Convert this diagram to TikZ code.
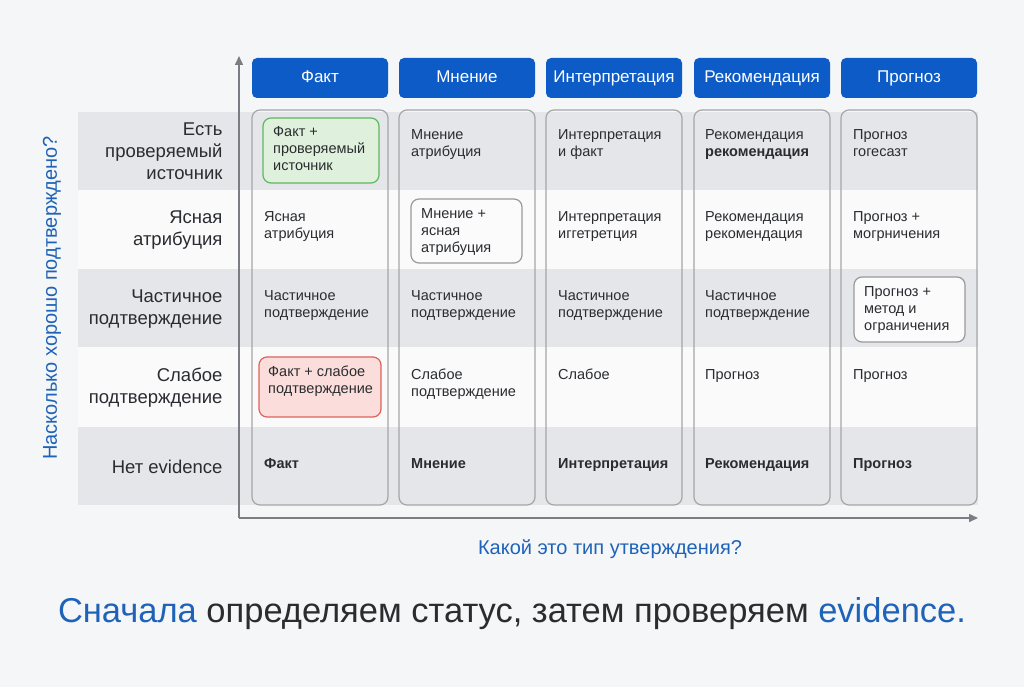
\documentclass[tikz,border=0pt]{standalone}
\usepackage{fontspec}
\setmainfont{Liberation Sans}
\usetikzlibrary{arrows.meta}
\definecolor{bg}{HTML}{F5F6F8}
\definecolor{band}{HTML}{E5E6E9}
\definecolor{wband}{HTML}{FAFAFB}
\definecolor{hblue}{HTML}{0D5BC6}
\definecolor{tblue}{HTML}{1F63B8}
\definecolor{axis}{HTML}{7A7D83}
\definecolor{txt}{HTML}{2A2C30}
\definecolor{gfill}{HTML}{DFF1DC}
\definecolor{gline}{HTML}{5DB85F}
\definecolor{rfill}{HTML}{FBDEDB}
\definecolor{rline}{HTML}{E0605A}
\tikzset{
 x=1pt,y=-1pt,
 hdr/.style={fill=hblue,rounded corners=5pt,text=white,font=\fontsize{17}{20}\selectfont,text height=12pt,text depth=3pt},
 colbox/.style={draw=black!35,line width=1.2pt,rounded corners=8pt},
 rowlab/.style={anchor=east,align=right,text=txt,font=\fontsize{18.5}{22}\selectfont},
 cell/.style={anchor=north west,align=left,text=txt,font=\fontsize{14.5}{17}\selectfont,inner sep=0pt},
 bcell/.style={cell,font=\bfseries\fontsize{14.5}{17}\selectfont},
 hl/.style={rounded corners=8pt,line width=1.2pt},
}
\begin{document}
\begin{tikzpicture}
\fill[bg] (0,0) rectangle (1024,687);
\useasboundingbox (0,0) rectangle (1024,687);
% bands
\fill[band] (78,112) rectangle (978,190);
\fill[wband] (78,190) rectangle (978,269);
\fill[band] (78,269) rectangle (978,347);
\fill[wband] (78,347) rectangle (978,427);
\fill[band] (78,427) rectangle (978,505);
% headers and columns
\foreach \x/\t/\n in {252/Факт/h1,399/Мнение/h2,546/Интерпретация/h3,694/Рекомендация/h4,841/Прогноз/h5}{
 \node[hdr,minimum width=136pt,minimum height=40pt] (\n) at (\x+68,78) {\t};
 \draw[colbox] (\x,110) rectangle (\x+136,505);
}
% highlight boxes
\draw[hl,draw=gline,fill=gfill] (263,118) rectangle (379,183);
\draw[hl,draw=rline,fill=rfill] (259,357) rectangle (381,417);
\draw[hl,draw=black!40,fill=white!60!bg] (411,199) rectangle (522,263);
\draw[hl,draw=black!40,fill=white!60!bg] (854,277) rectangle (965,342);
% axes
\coordinate (o) at (239,518);
\coordinate (yt) at (239,56);
\coordinate (xt) at (978,518);
\draw[axis,line width=1.5pt,-{Triangle[length=9pt,width=8pt]}] (o) -- (yt);
\draw[axis,line width=1.5pt,-{Triangle[length=9pt,width=8pt]}] (o) -- (xt);
% row labels
\node[rowlab] (r1) at (226,151) {Есть\\проверяемый\\источник};
\node[rowlab] (r2) at (226,230) {Ясная\\атрибуция};
\node[rowlab] (r3) at (226,309) {Частичное\\подтверждение};
\node[rowlab] (r4) at (226,388) {Слабое\\подтверждение};
\node[rowlab] (r5) at (226,467) {Нет evidence};
% axis labels
\node[rotate=90,text=tblue,font=\fontsize{20}{24}\selectfont] (yl) at (52,298) {Насколько хорошо подтверждено?};
\node[text=tblue,font=\fontsize{20}{24}\selectfont] (xl) at (610,549) {Какой это тип утверждения?};
% cells col1
\node[cell] (c11) at (273,126) {Факт +\\проверяемый\\источник};
\node[cell] (c12) at (264,211) {Ясная\\атрибуция};
\node[cell] (c13) at (264,290) {Частичное\\подтверждение};
\node[cell] (c14) at (268,366) {Факт + слабое\\подтверждение};
\node[bcell] (c15) at (264,458) {Факт};
% col2
\node[cell] (c21) at (411,129) {Мнение\\атрибуция};
\node[cell] (c22) at (421,208) {Мнение +\\ясная\\атрибуция};
\node[cell] (c23) at (411,290) {Частичное\\подтверждение};
\node[cell] (c24) at (411,369) {Слабое\\подтверждение};
\node[bcell] (c25) at (411,458) {Мнение};
% col3
\node[cell] (c31) at (558,129) {Интерпретация\\и факт};
\node[cell] (c32) at (558,211) {Интерпретация\\иггетретция};
\node[cell] (c33) at (558,290) {Частичное\\подтверждение};
\node[cell] (c34) at (558,369) {Слабое};
\node[bcell] (c35) at (558,458) {Интерпретация};
% col4
\node[cell] (c41) at (705,129) {Рекомендация\\\textbf{рекомендация}};
\node[cell] (c42) at (705,211) {Рекомендация\\рекомендация};
\node[cell] (c43) at (705,290) {Частичное\\подтверждение};
\node[cell] (c44) at (705,369) {Прогноз};
\node[bcell] (c45) at (705,458) {Рекомендация};
% col5
\node[cell] (c51) at (853,129) {Прогноз\\гогесазт};
\node[cell] (c52) at (853,211) {Прогноз +\\могрничения};
\node[cell] (c53) at (864,286) {Прогноз +\\метод и\\ограничения};
\node[cell] (c54) at (853,369) {Прогноз};
\node[bcell] (c55) at (853,458) {Прогноз};
% title
\node[font=\fontsize{34.5}{40}\selectfont,text=txt] (title) at (512,614) {\textcolor{tblue}{Сначала} определяем статус, затем проверяем \textcolor{tblue}{evidence.}};
\end{tikzpicture}
\end{document}
